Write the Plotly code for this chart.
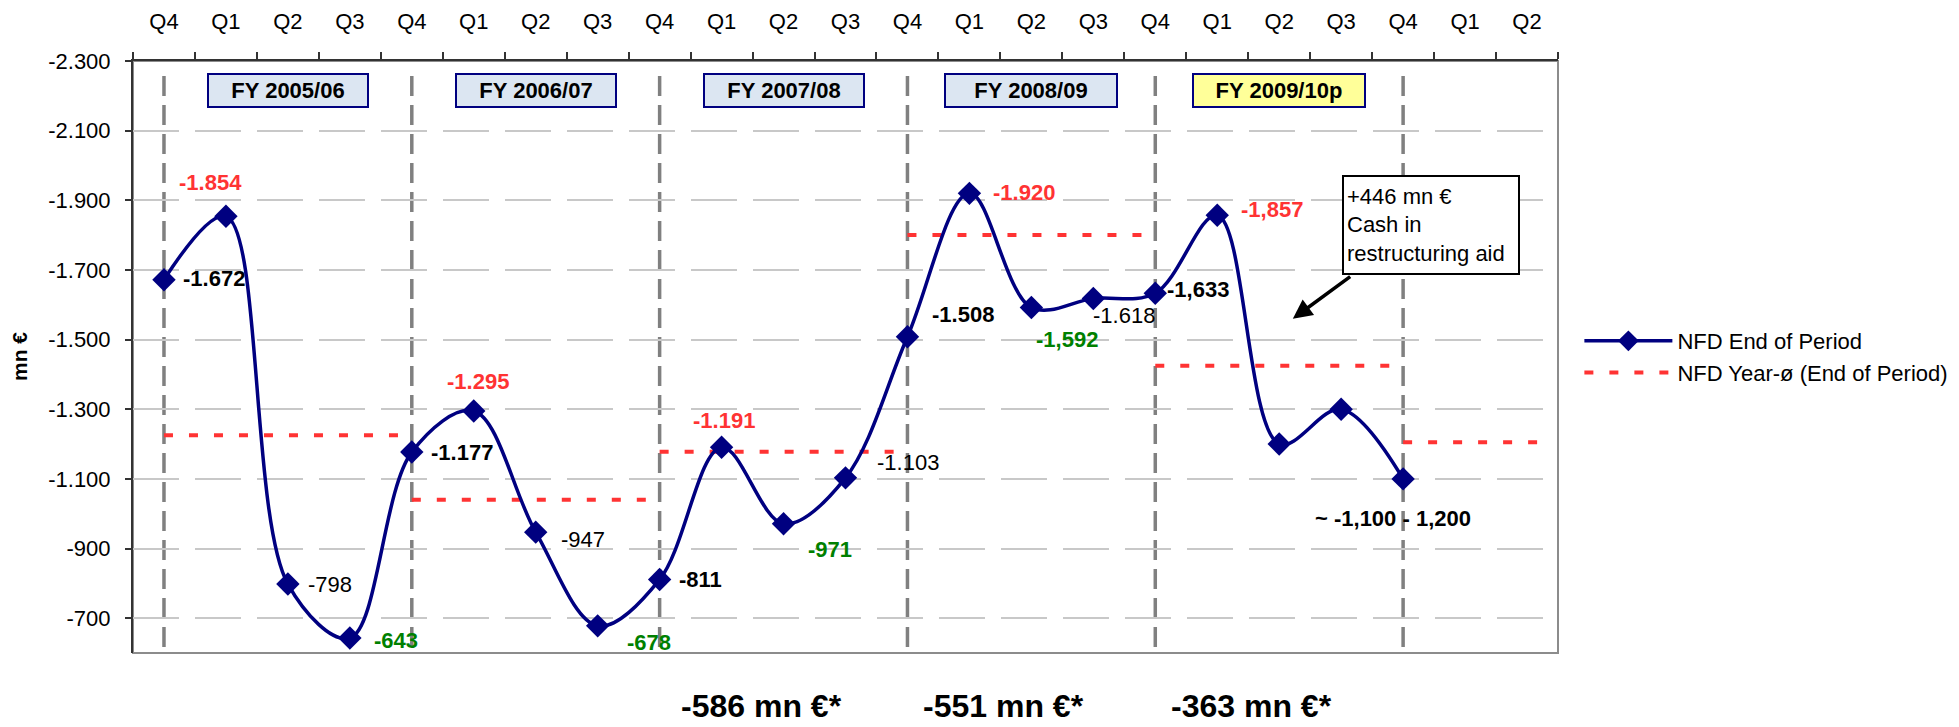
import plotly.graph_objects as go

# ---------------- data ----------------
quarters = ["Q4", "Q1", "Q2", "Q3"] * 5 + ["Q4", "Q1", "Q2"]
nfd_values = [-1672, -1854, -798, -643, -1177, -1295, -947, -678, -811, -1191,
              -971, -1103, -1508, -1920, -1592, -1618, -1633, -1857, -1200, -1300, -1100]
fy_labels = ["FY 2005/06", "FY 2006/07", "FY 2007/08", "FY 2008/09", "FY 2009/10p"]
fy_centers = [2, 6, 10, 14, 18]
fy_bounds = [0, 4, 8, 12, 16, 20]
year_avg = [-1225, -1040, -1178, -1800, -1425, -1205]
year_avg_end = [4, 8, 12, 16, 20, 22.4]
point_labels = {0: "-1.672", 1: "-1.854", 2: "-798", 3: "-643", 4: "-1.177", 5: "-1.295",
                6: "-947", 7: "-678", 8: "-811", 9: "-1.191", 10: "-971", 11: "-1.103",
                12: "-1.508", 13: "-1.920", 14: "-1,592", 15: "-1.618", 16: "-1,633",
                17: "-1,857", 20: "~ -1,100 - 1,200"}
bottom_texts = ["-586 mn €*", "-551 mn €*", "-363 mn €*"]
bottom_x = [9.65, 13.55, 17.55]
y_ticks = [-2300, -2100, -1900, -1700, -1500, -1300, -1100, -900, -700]
y_ticktext = ["-2.300", "-2.100", "-1.900", "-1.700", "-1.500", "-1.300", "-1.100", "-900", "-700"]

# ---------------- styles ----------------
FONT = "Liberation Sans, Arial, sans-serif"
NAVY = "#000080"
RED = "#FF3333"
GREEN = "#008000"
# style per label: (color, bold, xanchor, xshift, yshift)
label_style = {
    0: ("black", True, "left", 17, 1),
    1: ("red", True, "center", -15, 34),
    2: ("black", False, "left", 18, 0),
    3: ("green", True, "left", 22, -2),
    4: ("black", True, "left", 17, 0),
    5: ("red", True, "center", 4, 29),
    6: ("black", False, "left", 23, -7),
    7: ("green", True, "left", 27, -17),
    8: ("black", True, "left", 17, 0),
    9: ("red", True, "center", 2, 27),
    10: ("green", True, "left", 22, -26),
    11: ("black", False, "left", 29, 15),
    12: ("black", True, "left", 23, 22),
    13: ("red", True, "left", 22, 1),
    14: ("green", True, "center", 36, -32),
    15: ("black", False, "left", -2, -17),
    16: ("black", True, "left", 10, 4),
    17: ("red", True, "left", 22, 6),
    20: ("black", True, "center", -10, -40),
}
color_map = {"black": "black", "red": RED, "green": GREEN}

x_idx = list(range(len(nfd_values)))

fig = go.Figure()

# yearly average segments
ax, ay = [], []
for s, e, v in zip(fy_bounds, year_avg_end, year_avg):
    ax += [s, e, None]
    ay += [v, v, None]
fig.add_trace(go.Scatter(
    x=ax, y=ay, mode="lines", name="NFD Year-ø (End of Period)",
    line=dict(color=RED, width=4, dash="9px,16px"), legendgroup="b",
    hoverinfo="skip"))

fig.add_trace(go.Scatter(
    x=x_idx, y=nfd_values, mode="lines+markers", name="NFD End of Period",
    line=dict(color=NAVY, width=3.5, shape="spline", smoothing=1.0),
    marker=dict(symbol="diamond", size=18, color=NAVY), legendgroup="a",
    hoverinfo="skip"))

shapes = []
# plot frame
shapes.append(dict(type="rect", xref="paper", yref="paper", x0=0, x1=1, y0=0, y1=1,
                   line=dict(color="#8C8C8C", width=2), layer="below"))
# fiscal-year separators
for b in fy_bounds:
    shapes.append(dict(type="line", xref="x", yref="paper", x0=b, x1=b, y0=0.01, y1=0.988,
                       line=dict(color="#808080", width=3.5, dash="20px,9px"), layer="below"))

annotations = []
for t, c in zip(fy_labels, fy_centers):
    bg = "#FFFF99" if t.endswith("p") else "#DCE6F2"
    annotations.append(dict(x=c, y=0.9497, xref="x", yref="paper", text="<b>%s</b>" % t,
                            xanchor="center", yanchor="middle",
                            showarrow=False, font=dict(family=FONT, size=22, color="black"),
                            bgcolor=bg, bordercolor=NAVY, borderwidth=2, borderpad=2,
                            width=166 if (t.endswith("p") or "2008" in t) else 154, height=27))

for i, txt in point_labels.items():
    col, bold, xa, xs, ys = label_style[i]
    annotations.append(dict(x=i, y=nfd_values[i], xref="x", yref="y",
                            text=("<b>%s</b>" % txt) if bold else txt,
                            showarrow=False, xanchor=xa, yanchor="middle",
                            xshift=xs, yshift=ys,
                            font=dict(family=FONT, size=22, color=color_map[col])))

for t, x in zip(bottom_texts, bottom_x):
    annotations.append(dict(x=x, y=-0.089, xref="x", yref="paper",
                            xanchor="center", yanchor="middle",
                            text="<b>%s</b>" % t, showarrow=False,
                            font=dict(family=FONT, size=32, color="black")))

# cash-in annotation with arrow
annotations.append(dict(
    x=18.22, y=-1560, xref="x", yref="y",
    ax=19.17, ay=-1684, axref="x", ayref="y",
    text="", showarrow=True, arrowhead=2, arrowsize=1.1, arrowwidth=3.5, arrowcolor="black"))
annotations.append(dict(
    x=19.02, y=-1830, xref="x", yref="y", xanchor="left", yanchor="middle",
    text="+446 mn €<br>Cash in<br>restructuring aid", align="left", valign="middle",
    showarrow=False, width=168, height=90,
    font=dict(family=FONT, size=22, color="black"), bgcolor="white",
    bordercolor="black", borderwidth=2, borderpad=3))

annotations.append(dict(x=-0.08, y=0.5, xref="paper", yref="paper", text="<b>mn €</b>",
                        xanchor="center", yanchor="middle",
                        textangle=-90, showarrow=False,
                        font=dict(family=FONT, size=21, color="black")))

# page body has an 8px margin: figure is sized/offset so the plot lands where the reference has it
fig.update_layout(
    width=1951, height=719,
    margin=dict(l=125, r=401, t=53, b=74, pad=0, autoexpand=False),
    paper_bgcolor="white", plot_bgcolor="white",
    font=dict(family=FONT, size=22, color="black"),
    showlegend=True,
    legend=dict(x=1.015, y=0.5, xanchor="left", yanchor="middle",
                font=dict(family=FONT, size=22, color="black"),
                traceorder="reversed", tracegroupgap=24, itemwidth=88,
                bgcolor="rgba(0,0,0,0)"),
    shapes=shapes, annotations=annotations,
    xaxis=dict(range=[-0.5, 22.5], side="top", tickmode="array",
               tickvals=list(range(len(quarters))), ticktext=quarters,
               ticks="", showgrid=False, zeroline=False, automargin=False,
               showline=True, linecolor="#333333", linewidth=2,
               tickfont=dict(family=FONT, size=22, color="black"),
               ticklabelstandoff=21,
               minor=dict(tickmode="array", tickvals=[i - 0.5 for i in range(24)],
                          ticks="outside", ticklen=7, tickcolor="#333333", tickwidth=1.5,
                          showgrid=False)),
    yaxis=dict(range=[-600, -2300], tickmode="array", tickvals=y_ticks, ticktext=y_ticktext,
               ticks="outside", ticklen=6, tickcolor="#333333", tickwidth=1.5,
               showgrid=True, gridcolor="#C8C8C8", gridwidth=1.5, griddash="46px,16px",
               zeroline=False, showline=True, linecolor="#333333", linewidth=2,
               automargin=False,
               tickfont=dict(family=FONT, size=22, color="black"), ticklabelstandoff=10),
    hovermode=False,
)

fig.write_html("out.html")
